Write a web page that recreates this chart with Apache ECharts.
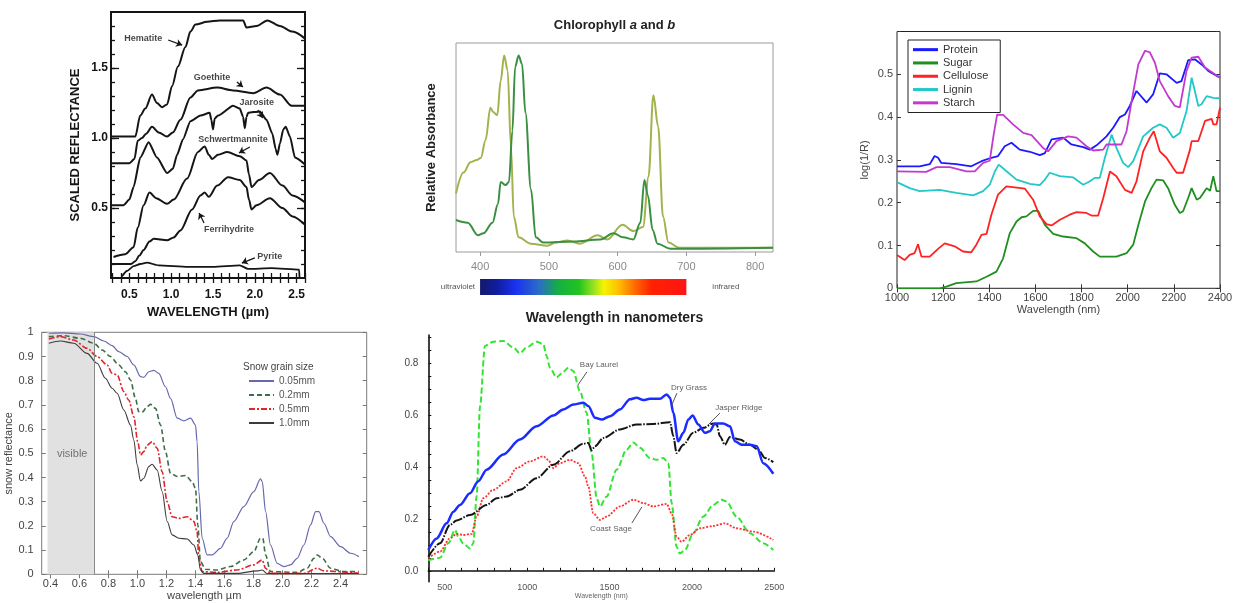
<!DOCTYPE html>
<html>
<head>
<meta charset="utf-8">
<title>Reflectance and absorbance spectra</title>
<script src="https://cdn.jsdelivr.net/npm/echarts@6/dist/echarts.min.js"></script>
<style>
  html, body { margin: 0; padding: 0; background: #ffffff; }
  #main { width: 1234px; height: 603px; }
</style>
</head>
<body>
<div id="main"></div>
<script>
// ---------- Minerals: scaled reflectance vs wavelength (µm) ----------
const hematite = [[0.28,1.01],[0.57,1.01],[0.63,1.16],[0.69,1.21],[0.77,1.31],[0.83,1.25],[0.89,1.22],[0.95,1.24],[1.01,1.37],[1.08,1.51],[1.17,1.65],[1.23,1.76],[1.29,1.81],[1.43,1.83],[1.58,1.84],[1.86,1.84],[1.9,1.79],[2.02,1.80],[2.15,1.84],[2.30,1.80],[2.45,1.76],[2.6,1.71]];
const goethite = [[0.28,0.82],[0.5,0.82],[0.56,0.85],[0.6,0.98],[0.65,1.0],[0.7,1.03],[0.77,1.08],[0.85,1.04],[0.95,1.01],[1.02,1.04],[1.11,1.13],[1.23,1.29],[1.32,1.34],[1.55,1.36],[1.74,1.34],[1.98,1.32],[2.14,1.36],[2.30,1.31],[2.44,1.23],[2.6,1.23]];
const jarosite = [[0.28,0.52],[0.43,0.52],[0.5,0.56],[0.55,0.65],[0.63,0.86],[0.73,0.97],[0.83,0.86],[0.95,0.75],[1.02,0.78],[1.07,0.88],[1.14,0.99],[1.23,1.12],[1.35,1.16],[1.46,1.18],[1.48,1.13],[1.50,1.06],[1.52,1.14],[1.56,1.16],[1.74,1.23],[1.82,1.21],[1.86,1.15],[1.88,1.07],[1.90,1.15],[1.92,1.18],[2.06,1.19],[2.14,1.13],[2.21,1.03],[2.25,0.92],[2.27,0.88],[2.30,0.96],[2.34,1.06],[2.37,1.08],[2.42,1.01],[2.48,0.86],[2.6,0.81]];
const schwertmannite = [[0.31,0.15],[0.45,0.17],[0.55,0.22],[0.6,0.36],[0.67,0.52],[0.74,0.61],[0.82,0.57],[0.95,0.53],[1.03,0.56],[1.19,0.71],[1.32,0.90],[1.40,0.94],[1.45,0.88],[1.49,0.85],[1.56,0.88],[1.67,0.90],[1.82,0.87],[1.9,0.84],[1.93,0.74],[1.96,0.65],[2.05,0.70],[2.18,0.75],[2.33,0.66],[2.45,0.59],[2.6,0.54]];
const ferrihydrite = [[0.28,0.10],[0.52,0.10],[0.57,0.12],[0.62,0.16],[0.67,0.20],[0.74,0.26],[0.79,0.28],[0.95,0.27],[1.03,0.29],[1.11,0.34],[1.25,0.49],[1.35,0.59],[1.40,0.61],[1.45,0.58],[1.55,0.66],[1.68,0.72],[1.82,0.70],[1.9,0.65],[1.93,0.56],[1.96,0.49],[2.02,0.52],[2.18,0.57],[2.33,0.50],[2.45,0.44],[2.6,0.38]];
const pyrite = [[0.41,0.01],[0.47,0.05],[0.55,0.085],[0.63,0.10],[0.71,0.11],[0.85,0.09],[1.2,0.08],[1.5,0.08],[1.82,0.09],[1.92,0.065],[2.2,0.07],[2.53,0.06],[2.535,0.0]];
const mineralTickLabels = [0.5, 1.0, 1.5, 2.0, 2.5];
const mineralYTickLabels = [0.5, 1.0, 1.5];
// label text at [x, y, text]; arrows [x0, y0, x1, y1]
const mineralNotes = [[0.667,1.714,'Hematite'],[1.488,1.429,'Goethite'],[2.024,1.25,'Jarosite'],[1.738,0.986,'Schwertmannite'],[1.69,0.343,'Ferrihydrite'],[2.179,0.15,'Pyrite']];
const mineralArrows = [[0.964,1.70,1.131,1.664],[1.786,1.40,1.857,1.364],[2.036,1.2,2.095,1.143],[1.94,0.936,1.81,0.893],[1.393,0.393,1.333,0.464],[2.0,0.143,1.845,0.107]];

// ---------- Chlorophyll a and b: relative absorbance vs wavelength (nm) ----------
const chlorophyllA = [[365,0.28],[376,0.38],[386,0.43],[395,0.44],[401,0.45],[408,0.535],[415,0.69],[419,0.67],[425,0.655],[430,0.82],[435,0.94],[440,0.87],[445,0.5],[449,0.17],[456,0.07],[474,0.04],[498,0.03],[510,0.045],[527,0.055],[545,0.04],[571,0.08],[585,0.06],[607,0.13],[623,0.10],[637,0.12],[645,0.36],[652,0.75],[659,0.6],[666,0.17],[674,0.045],[690,0.02],[826,0.02]];
const chlorophyllB = [[365,0.153],[382,0.14],[397,0.08],[405,0.09],[418,0.14],[426,0.23],[430,0.335],[437,0.32],[442,0.335],[447,0.58],[451,0.885],[456,0.94],[461,0.9],[466,0.665],[474,0.3],[481,0.07],[492,0.045],[536,0.05],[575,0.06],[594,0.09],[608,0.07],[623,0.06],[633,0.14],[639,0.345],[644,0.27],[651,0.105],[658,0.04],[677,0.015],[826,0.02]];
const chlorophyllTicks = [400, 500, 600, 700, 800];
const spectrumRange = [400, 700];

// ---------- Biochemicals: log(1/R) vs wavelength (nm) ----------
const protein = [[1000,0.285],[1098,0.285],[1142,0.29],[1163,0.309],[1178,0.305],[1192,0.293],[1257,0.29],[1322,0.285],[1366,0.297],[1409,0.305],[1438,0.309],[1467,0.332],[1496,0.34],[1532,0.324],[1576,0.319],[1619,0.311],[1641,0.316],[1670,0.348],[1720,0.352],[1756,0.336],[1807,0.33],[1836,0.324],[1865,0.334],[1908,0.355],[1937,0.375],[1966,0.4],[1988,0.406],[2009,0.426],[2038,0.461],[2082,0.434],[2110,0.453],[2139,0.502],[2168,0.5],[2212,0.48],[2233,0.484],[2262,0.533],[2291,0.535],[2320,0.523],[2349,0.508],[2400,0.492]];
const sugar = [[1000,0],[1185,0],[1214,0.004],[1257,0.012],[1344,0.016],[1388,0.027],[1431,0.039],[1460,0.07],[1489,0.129],[1518,0.156],[1540,0.166],[1561,0.168],[1590,0.181],[1612,0.181],[1641,0.148],[1677,0.127],[1720,0.121],[1778,0.117],[1814,0.105],[1850,0.086],[1879,0.074],[1951,0.074],[1995,0.082],[2024,0.102],[2046,0.148],[2075,0.203],[2103,0.234],[2125,0.254],[2154,0.252],[2175,0.234],[2204,0.195],[2226,0.176],[2240,0.18],[2262,0.211],[2277,0.234],[2299,0.207],[2313,0.211],[2342,0.234],[2357,0.228],[2371,0.262],[2385,0.227],[2400,0.227]];
const cellulose = [[1000,0.078],[1033,0.066],[1055,0.078],[1076,0.082],[1091,0.103],[1106,0.074],[1142,0.074],[1178,0.092],[1207,0.105],[1250,0.098],[1286,0.086],[1322,0.084],[1344,0.102],[1366,0.125],[1388,0.127],[1409,0.172],[1438,0.219],[1474,0.238],[1511,0.236],[1554,0.233],[1590,0.207],[1619,0.168],[1648,0.15],[1670,0.147],[1706,0.16],[1749,0.172],[1778,0.178],[1821,0.176],[1843,0.17],[1872,0.17],[1894,0.211],[1923,0.273],[1951,0.262],[1988,0.23],[2017,0.223],[2038,0.25],[2067,0.32],[2096,0.352],[2113,0.367],[2139,0.32],[2168,0.305],[2197,0.281],[2212,0.27],[2240,0.27],[2270,0.324],[2277,0.344],[2306,0.344],[2335,0.391],[2364,0.396],[2371,0.383],[2385,0.383],[2400,0.422]];
const lignin = [[1000,0.248],[1055,0.234],[1098,0.227],[1185,0.23],[1257,0.223],[1330,0.217],[1373,0.227],[1402,0.242],[1424,0.273],[1441,0.289],[1467,0.277],[1518,0.254],[1576,0.244],[1619,0.241],[1641,0.254],[1662,0.27],[1706,0.262],[1764,0.259],[1807,0.242],[1836,0.25],[1857,0.258],[1879,0.258],[1901,0.305],[1930,0.359],[1951,0.328],[1980,0.293],[2002,0.283],[2024,0.297],[2067,0.355],[2110,0.375],[2139,0.383],[2168,0.375],[2197,0.352],[2226,0.363],[2255,0.414],[2277,0.492],[2291,0.461],[2306,0.426],[2320,0.43],[2342,0.449],[2371,0.445],[2400,0.444]];
const starch = [[1000,0.273],[1127,0.272],[1171,0.283],[1229,0.283],[1301,0.273],[1337,0.273],[1373,0.293],[1402,0.298],[1419,0.359],[1434,0.406],[1460,0.405],[1503,0.383],[1547,0.363],[1583,0.358],[1633,0.328],[1655,0.32],[1691,0.344],[1742,0.355],[1778,0.352],[1821,0.332],[1850,0.322],[1894,0.324],[1908,0.336],[1973,0.336],[1995,0.367],[2017,0.4375],[2046,0.523],[2075,0.555],[2096,0.551],[2118,0.527],[2139,0.484],[2175,0.449],[2204,0.426],[2226,0.423],[2255,0.508],[2277,0.539],[2306,0.541],[2335,0.516],[2400,0.492]];
const biochemYTicks = [0, 0.1, 0.2, 0.3, 0.4, 0.5, 0.6];
const biochemYLabels = [0, 0.1, 0.2, 0.3, 0.4, 0.5];

// ---------- Snow: reflectance vs wavelength (µm) for four grain sizes ----------
const snow005 = [[0.389,0.996],[0.492,0.998],[0.607,0.993],[0.699,0.982],[0.768,0.964],[0.825,0.945],[0.871,0.92],[0.929,0.9],[0.975,0.865],[1.021,0.817],[1.044,0.814],[1.078,0.837],[1.113,0.843],[1.147,0.83],[1.193,0.775],[1.228,0.727],[1.274,0.645],[1.32,0.634],[1.366,0.645],[1.4,0.617],[1.411,0.548],[1.423,0.342],[1.446,0.149],[1.48,0.08],[1.515,0.08],[1.572,0.107],[1.618,0.149],[1.664,0.218],[1.733,0.28],[1.802,0.342],[1.848,0.394],[1.86,0.383],[1.883,0.259],[1.917,0.121],[1.963,0.045],[2.009,0.032],[2.055,0.039],[2.101,0.066],[2.147,0.121],[2.193,0.204],[2.228,0.259],[2.251,0.259],[2.285,0.211],[2.331,0.156],[2.4,0.114],[2.469,0.087],[2.526,0.073]];
const snow02 = [[0.389,0.982],[0.492,0.986],[0.607,0.975],[0.699,0.955],[0.756,0.927],[0.814,0.9],[0.871,0.865],[0.917,0.837],[0.952,0.803],[0.986,0.727],[1.009,0.672],[1.032,0.669],[1.067,0.693],[1.09,0.702],[1.124,0.686],[1.159,0.617],[1.193,0.507],[1.228,0.417],[1.274,0.404],[1.331,0.408],[1.377,0.383],[1.4,0.355],[1.416,0.204],[1.434,0.052],[1.469,0.021],[1.549,0.018],[1.641,0.032],[1.733,0.059],[1.802,0.094],[1.848,0.149],[1.864,0.149],[1.883,0.08],[1.917,0.011],[2.101,0.008],[2.17,0.025],[2.216,0.066],[2.239,0.08],[2.274,0.066],[2.331,0.025],[2.423,0.011],[2.526,0.011]];
const snow05 = [[0.389,0.972],[0.469,0.982],[0.561,0.968],[0.653,0.934],[0.722,0.9],[0.791,0.865],[0.825,0.831],[0.86,0.824],[0.906,0.755],[0.94,0.72],[0.975,0.651],[1.002,0.548],[1.021,0.493],[1.044,0.507],[1.067,0.534],[1.101,0.548],[1.136,0.521],[1.17,0.424],[1.205,0.3],[1.239,0.238],[1.285,0.231],[1.343,0.238],[1.389,0.218],[1.411,0.176],[1.423,0.066],[1.446,0.011],[1.549,0.008],[1.687,0.018],[1.802,0.039],[1.86,0.059],[1.883,0.025],[1.917,0.004],[2.147,0.004],[2.239,0.025],[2.285,0.014],[2.526,0.004]];
const snow10 = [[0.389,0.955],[0.469,0.964],[0.561,0.955],[0.653,0.913],[0.722,0.872],[0.779,0.81],[0.825,0.769],[0.86,0.748],[0.906,0.679],[0.952,0.617],[0.975,0.555],[0.998,0.452],[1.021,0.386],[1.044,0.397],[1.078,0.445],[1.101,0.455],[1.136,0.431],[1.17,0.342],[1.205,0.218],[1.239,0.163],[1.285,0.149],[1.343,0.146],[1.389,0.121],[1.416,0.08],[1.434,0.018],[1.457,0.004],[1.687,0.004],[1.825,0.014],[1.86,0.018],[1.894,0.003],[2.526,0.003]];
const snowXTicks = [0.4, 0.6, 0.8, 1.0, 1.2, 1.4, 1.6, 1.8, 2.0, 2.2, 2.4];
const visibleBand = [0.38, 0.7];
const visibleNote = [[0.55, 0.497, 'visible']];

// ---------- Vegetation: reflectance vs wavelength (nm) ----------
const dryGrass = [[400,0.08],[451,0.125],[511,0.183],[552,0.228],[592,0.254],[653,0.299],[703,0.345],[754,0.39],[855,0.448],[956,0.506],[1057,0.557],[1159,0.599],[1219,0.622],[1280,0.641],[1341,0.648],[1371,0.635],[1412,0.59],[1452,0.583],[1503,0.596],[1563,0.622],[1624,0.661],[1664,0.667],[1705,0.658],[1745,0.663],[1806,0.663],[1846,0.68],[1867,0.667],[1887,0.609],[1917,0.499],[1948,0.532],[1978,0.583],[2004,0.599],[2039,0.564],[2079,0.532],[2109,0.538],[2140,0.568],[2190,0.568],[2231,0.557],[2261,0.499],[2302,0.486],[2352,0.486],[2393,0.48],[2433,0.415],[2494,0.374]];
const jasperRidge = [[400,0.054],[471,0.106],[531,0.177],[572,0.194],[653,0.215],[754,0.254],[815,0.28],[875,0.286],[956,0.312],[1057,0.357],[1159,0.409],[1260,0.461],[1341,0.49],[1371,0.493],[1391,0.465],[1412,0.48],[1462,0.512],[1563,0.545],[1664,0.564],[1765,0.566],[1867,0.573],[1887,0.519],[1907,0.454],[1948,0.486],[2008,0.532],[2069,0.551],[2130,0.568],[2150,0.564],[2170,0.519],[2200,0.486],[2231,0.516],[2291,0.506],[2352,0.486],[2403,0.467],[2443,0.435],[2494,0.419]];
const bayLaurel = [[400,0.041],[471,0.05],[521,0.106],[562,0.157],[582,0.132],[612,0.106],[653,0.086],[673,0.106],[693,0.286],[714,0.635],[744,0.867],[794,0.883],[855,0.886],[916,0.861],[956,0.839],[997,0.861],[1057,0.883],[1098,0.874],[1118,0.828],[1138,0.783],[1179,0.745],[1209,0.761],[1250,0.783],[1280,0.77],[1320,0.693],[1361,0.609],[1391,0.454],[1422,0.28],[1442,0.248],[1482,0.286],[1543,0.39],[1604,0.467],[1644,0.495],[1685,0.474],[1745,0.435],[1786,0.428],[1826,0.435],[1857,0.415],[1877,0.261],[1907,0.093],[1927,0.067],[1958,0.08],[2008,0.145],[2069,0.209],[2130,0.254],[2180,0.274],[2210,0.267],[2271,0.209],[2352,0.145],[2433,0.106],[2494,0.08]];
const coastSage = [[400,0.048],[471,0.074],[531,0.125],[572,0.142],[612,0.138],[663,0.142],[693,0.209],[734,0.28],[794,0.312],[875,0.345],[936,0.396],[1017,0.422],[1098,0.441],[1128,0.428],[1159,0.396],[1199,0.415],[1260,0.428],[1310,0.415],[1351,0.364],[1371,0.325],[1401,0.222],[1442,0.196],[1482,0.209],[1563,0.248],[1644,0.274],[1705,0.261],[1765,0.248],[1846,0.258],[1877,0.222],[1907,0.132],[1937,0.112],[1988,0.138],[2049,0.164],[2130,0.173],[2200,0.183],[2271,0.164],[2372,0.151],[2494,0.119]];
const vegXTicks = [500, 1000, 1500, 2000, 2500];
const vegYTicks = [0, 0.2, 0.4, 0.6, 0.8];
const vegNotes = [[1436,0.794,'Bay Laurel'],[1982,0.705,'Dry Grass'],[2285,0.627,'Jasper Ridge'],[1509,0.161,'Coast Sage']];
const vegLeaders = [[1363,0.767,1308,0.716],[1909,0.685,1878,0.639],[2170,0.608,2098,0.562],[1636,0.184,1696,0.246]];

// ---------- helpers ----------
const FONT = "'Liberation Sans', Arial, Helvetica, sans-serif";
function seq(a, b, s) {
  const out = [];
  for (let v = a; v <= b + s * 1e-6; v += s) out.push(+v.toFixed(4));
  return out;
}
const plain = v => String(v);
const off = { show: false };
function plainAxis(extra) {
  return Object.assign({
    type: 'value', splitLine: off, axisLine: off,
    axisTick: off, axisLabel: off
  }, extra);
}
function ticks(values, len, color, inside, width) {
  return { show: true, inside: inside, length: len, customValues: values,
           lineStyle: { color: color, width: width || 1 } };
}
function lineSeries(name, data, xi, yi, color, width, type, smooth) {
  return {
    name: name, type: 'line', data: data, xAxisIndex: xi, yAxisIndex: yi,
    symbol: 'none', showSymbol: false, smooth: smooth || false, smoothMonotone: 'x',
    lineStyle: { color: color, width: width, type: type || 'solid' },
    itemStyle: { color: color }, emphasis: { disabled: true }, silent: true, z: 3
  };
}
function noteSeries(notes, xi, yi, font, arrows, arrowStyle) {
  const s = {
    type: 'scatter', xAxisIndex: xi, yAxisIndex: yi, symbolSize: 1, silent: true,
    itemStyle: { color: 'transparent' }, z: 5,
    data: notes.map(n => ({ value: [n[0], n[1]], text: n[2] })),
    label: Object.assign({ show: true, position: 'inside', formatter: p => p.data.text }, font)
  };
  if (arrows) {
    s.markLine = {
      silent: true, animation: false,
      symbol: arrowStyle.symbol, symbolSize: arrowStyle.symbolSize,
      label: off, lineStyle: arrowStyle.lineStyle, emphasis: { disabled: true },
      data: arrows.map(a => [{ coord: [a[0], a[1]] }, { coord: [a[2], a[3]] }])
    };
  }
  return s;
}

const mineralMinorX = seq(0.3, 2.6, 0.1);
const mineralMinorY = seq(0.1, 1.8, 0.1);
const K = '#151515';
const boldTick = { fontFamily: FONT, fontWeight: 'bold', fontSize: 12, color: K };

const xAxis = [
  // 0 minerals bottom
  plainAxis({ gridIndex: 0, position: 'bottom', min: 0.28, max: 2.6,
    axisTick: ticks(mineralMinorX, 5, K, true, 1.3),
    axisLabel: Object.assign({ show: true, customValues: mineralTickLabels, margin: 11,
      formatter: v => v.toFixed(1) }, boldTick),
    name: 'WAVELENGTH (µm)', nameLocation: 'middle', nameGap: 28,
    nameTextStyle: { fontFamily: FONT, fontWeight: 'bold', fontSize: 13, color: K } }),
  // 1 minerals top
  plainAxis({ gridIndex: 0, position: 'top', min: 0.28, max: 2.6,
    axisTick: ticks(mineralMinorX, 5, K, true, 1.3) }),
  // 2 chlorophyll bottom
  plainAxis({ gridIndex: 1, position: 'bottom', min: 365, max: 826,
    axisTick: ticks(chlorophyllTicks, 4, '#999', false, 1),
    axisLabel: { show: true, customValues: chlorophyllTicks, margin: 9, formatter: plain,
      fontFamily: FONT, fontSize: 11, color: '#8a8a8a' },
    name: 'Wavelength in nanometers', nameLocation: 'middle', nameGap: 59,
    nameTextStyle: { fontFamily: FONT, fontWeight: 'bold', fontSize: 14, color: '#222' } }),
  // 3 biochemicals bottom
  plainAxis({ gridIndex: 2, position: 'bottom', min: 1000, max: 2400, interval: 200,
    axisTick: ticks(seq(1000, 2400, 200), 4, '#333', true, 1),
    axisLabel: { show: true, margin: 4, formatter: plain, fontFamily: FONT, fontSize: 11, color: '#444' },
    name: 'Wavelength (nm)', nameLocation: 'middle', nameGap: 16,
    nameTextStyle: { fontFamily: FONT, fontSize: 11, color: '#444' } }),
  // 4 biochemicals top
  plainAxis({ gridIndex: 2, position: 'top', min: 1000, max: 2400, interval: 200,
    axisTick: ticks(seq(1000, 2400, 200), 4, '#333', true, 1) }),
  // 5 snow bottom
  plainAxis({ gridIndex: 3, position: 'bottom', min: 0.34, max: 2.58,
    axisTick: ticks(snowXTicks, 4, '#777', true, 1),
    axisLabel: { show: true, customValues: snowXTicks, margin: 4, formatter: v => v.toFixed(1),
      fontFamily: FONT, fontSize: 11, color: '#444' },
    name: 'wavelength µm', nameLocation: 'middle', nameGap: 16,
    nameTextStyle: { fontFamily: FONT, fontSize: 11, color: '#444' } }),
  // 6 snow top
  plainAxis({ gridIndex: 3, position: 'top', min: 0.34, max: 2.58,
    axisTick: ticks(snowXTicks, 4, '#777', true, 1) }),
  // 7 vegetation bottom
  plainAxis({ gridIndex: 4, position: 'bottom', min: 400, max: 2500,
    axisLine: { show: true, lineStyle: { color: '#111', width: 1.6 } },
    axisTick: ticks(seq(400, 2500, 100), 3, '#111', true, 1),
    axisLabel: { show: true, customValues: vegXTicks, margin: 1, formatter: plain,
      fontFamily: FONT, fontSize: 9, color: '#555' },
    name: 'Wavelength (nm)', nameLocation: 'middle', nameGap: 9,
    nameTextStyle: { fontFamily: FONT, fontSize: 7, color: '#666' } })
];

const yAxis = [
  // 0 minerals left (major)
  plainAxis({ gridIndex: 0, position: 'left', min: 0, max: 1.9,
    axisTick: ticks(mineralYTickLabels, 8, K, true, 1.3),
    axisLabel: Object.assign({ show: true, customValues: mineralYTickLabels, margin: 3,
      formatter: v => v.toFixed(1) }, boldTick),
    name: 'SCALED REFLECTANCE', nameLocation: 'middle', nameGap: 29,
    nameTextStyle: { fontFamily: FONT, fontWeight: 'bold', fontSize: 13, color: K } }),
  // 1 minerals left (minor)
  plainAxis({ gridIndex: 0, position: 'left', min: 0, max: 1.9,
    axisTick: ticks(mineralMinorY, 4, K, true, 1.3) }),
  // 2 minerals right (major)
  plainAxis({ gridIndex: 0, position: 'right', min: 0, max: 1.9,
    axisTick: ticks(mineralYTickLabels, 8, K, true, 1.3) }),
  // 3 minerals right (minor)
  plainAxis({ gridIndex: 0, position: 'right', min: 0, max: 1.9,
    axisTick: ticks(mineralMinorY, 4, K, true, 1.3) }),
  // 4 chlorophyll
  plainAxis({ gridIndex: 1, position: 'left', min: 0, max: 1,
    name: 'Relative Absorbance', nameLocation: 'middle', nameGap: 18,
    nameTextStyle: { fontFamily: FONT, fontWeight: 'bold', fontSize: 13, color: '#222' } }),
  // 5 biochemicals left
  plainAxis({ gridIndex: 2, position: 'left', min: 0, max: 0.6,
    axisTick: ticks(biochemYTicks, 4, '#333', true, 1),
    axisLabel: { show: true, customValues: biochemYLabels, margin: 4,
      fontFamily: FONT, fontSize: 11, color: '#444' },
    name: 'log(1/R)', nameLocation: 'middle', nameGap: 27,
    nameTextStyle: { fontFamily: FONT, fontSize: 11, color: '#444' } }),
  // 6 biochemicals right
  plainAxis({ gridIndex: 2, position: 'right', min: 0, max: 0.6,
    axisTick: ticks(biochemYTicks, 4, '#333', true, 1) }),
  // 7 snow left
  plainAxis({ gridIndex: 3, position: 'left', min: 0, max: 1, interval: 0.1,
    axisTick: ticks(seq(0, 1, 0.1), 4, '#777', true, 1),
    axisLabel: { show: true, margin: 8, fontFamily: FONT, fontSize: 11, color: '#444' },
    name: 'snow reflectance', nameLocation: 'middle', nameGap: 26,
    nameTextStyle: { fontFamily: FONT, fontSize: 11, color: '#444' } }),
  // 8 snow right
  plainAxis({ gridIndex: 3, position: 'right', min: 0, max: 1,
    axisTick: ticks(seq(0, 1, 0.1), 4, '#777', true, 1) }),
  // 9 vegetation left
  plainAxis({ gridIndex: 4, position: 'left', min: -0.042, max: 0.909,
    axisLine: { show: true, lineStyle: { color: '#111', width: 1.6 } },
    axisTick: ticks(seq(0, 0.9, 0.05), 3, '#111', true, 1),
    axisLabel: { show: true, customValues: vegYTicks, margin: 10, formatter: v => v.toFixed(1),
      fontFamily: FONT, fontSize: 10, color: '#444' } })
];

const grid = [
  { left: 111, top: 12, width: 194, height: 266, show: true, borderColor: K, borderWidth: 2, outerBoundsMode: 'none' },
  { left: 456, top: 43, width: 317, height: 209, show: true, borderColor: '#9a9a9a', borderWidth: 1, outerBoundsMode: 'none' },
  { left: 897, top: 31.5, width: 323, height: 256.8, show: true, borderColor: '#222', borderWidth: 1, outerBoundsMode: 'none' },
  { left: 41.7, top: 332.3, width: 325, height: 242, show: true, borderColor: '#7a7a7a', borderWidth: 1, outerBoundsMode: 'none' },
  { left: 428.3, top: 335, width: 346, height: 246.7, outerBoundsMode: 'none' }
];

const noteFontBold = { fontFamily: FONT, fontWeight: 'bold', fontSize: 9, color: K };
const noteFontSmall = { fontFamily: FONT, fontSize: 8, color: '#333' };

const snowFirst = lineSeries('0.05mm', snow005, 5, 7, '#6868ae', 1.2, 'solid', 0.3);
snowFirst.markArea = {
  silent: true, itemStyle: { color: '#e1e1e1' }, emphasis: { disabled: true },
  data: [[{ xAxis: visibleBand[0] }, { xAxis: visibleBand[1] }]]
};
snowFirst.markLine = {
  silent: true, symbol: 'none', label: off, emphasis: { disabled: true },
  lineStyle: { color: '#888', width: 1, type: 'solid' },
  data: [{ xAxis: visibleBand[1] }]
};

const series = [
  // minerals
  lineSeries('Hematite', hematite, 0, 0, K, 2, 'solid', 0.3),
  lineSeries('Goethite', goethite, 0, 0, K, 2, 'solid', 0.3),
  lineSeries('Jarosite', jarosite, 0, 0, K, 2, 'solid', 0.2),
  lineSeries('Schwertmannite', schwertmannite, 0, 0, K, 2, 'solid', 0.3),
  lineSeries('Ferrihydrite', ferrihydrite, 0, 0, K, 2, 'solid', 0.3),
  lineSeries('Pyrite', pyrite, 0, 0, K, 1.8, 'solid', 0.2),
  noteSeries(mineralNotes, 0, 0, noteFontBold, mineralArrows,
    { symbol: ['none', 'arrow'], symbolSize: 6, lineStyle: { color: K, width: 1.3, type: 'solid' } }),
  // chlorophyll
  lineSeries('Chlorophyll a', chlorophyllA, 2, 4, '#a3b24c', 2, 'solid', 0.35),
  lineSeries('Chlorophyll b', chlorophyllB, 2, 4, '#3a9040', 2, 'solid', 0.35),
  // biochemicals
  lineSeries('Protein', protein, 3, 5, '#1a1aff', 1.8),
  lineSeries('Sugar', sugar, 3, 5, '#1f8f1f', 1.8),
  lineSeries('Cellulose', cellulose, 3, 5, '#ff2222', 1.8),
  lineSeries('Lignin', lignin, 3, 5, '#22c8c8', 1.8),
  lineSeries('Starch', starch, 3, 5, '#c23ad0', 1.8),
  // snow
  snowFirst,
  lineSeries('0.2mm', snow02, 5, 7, '#3e6e48', 1.6, [5, 3], 0.3),
  lineSeries('0.5mm', snow05, 5, 7, '#e3242b', 1.6, [6, 2, 2, 2], 0.3),
  lineSeries('1.0mm', snow10, 5, 7, '#3c3c3c', 1.1, 'solid', 0.3),
  noteSeries(visibleNote, 5, 7, { fontFamily: FONT, fontSize: 11, color: '#555' }),
  // vegetation
  lineSeries('Bay Laurel', bayLaurel, 7, 9, '#33e433', 2, [6, 3], 0.3),
  lineSeries('Coast Sage', coastSage, 7, 9, '#ff3030', 1.8, [2, 1.5], 0.3),
  lineSeries('Jasper Ridge', jasperRidge, 7, 9, '#151515', 2, [10, 1.5, 1.5, 1.5], 0.3),
  lineSeries('Dry Grass', dryGrass, 7, 9, '#1a2cff', 2.5, 'solid', 0.3),
  noteSeries(vegNotes, 7, 9, noteFontSmall, vegLeaders,
    { symbol: ['none', 'none'], symbolSize: 0, lineStyle: { color: '#555', width: 1, type: 'solid' } })
];

const legend = [
  {
    data: ['Protein', 'Sugar', 'Cellulose', 'Lignin', 'Starch'],
    orient: 'vertical', left: 908, top: 40, icon: 'rect', itemWidth: 25, itemHeight: 3, itemGap: 0,
    padding: [3, 12, 3, 5], borderColor: '#222', borderWidth: 1, backgroundColor: '#fff',
    textStyle: { fontFamily: FONT, fontSize: 11, lineHeight: 13.3, color: '#333' },
    selectedMode: false
  },
  {
    data: ['0.05mm', '0.2mm', '0.5mm', '1.0mm'],
    orient: 'vertical', left: 248, top: 376, itemWidth: 25, itemHeight: 10, itemGap: 4,
    padding: 0, itemStyle: { opacity: 0 },
    textStyle: { fontFamily: FONT, fontSize: 10, lineHeight: 10, color: '#555' },
    selectedMode: false
  }
];

const chart = echarts.init(document.getElementById('main'), null, { renderer: 'canvas' });
chart.setOption({
  animation: false,
  backgroundColor: '#ffffff',
  textStyle: { fontFamily: FONT },
  grid: grid, xAxis: xAxis, yAxis: yAxis, legend: legend, series: series
});

// Colour spectrum bar under the chlorophyll axis, placed on the wavelength scale.
const sx0 = chart.convertToPixel({ xAxisIndex: 2 }, spectrumRange[0]);
const sx1 = chart.convertToPixel({ xAxisIndex: 2 }, spectrumRange[1]);
const axisBottom = chart.convertToPixel({ yAxisIndex: 4 }, 0);
const barTop = axisBottom + 27;
const titleCenter = (chart.convertToPixel({ xAxisIndex: 2 }, 365) + chart.convertToPixel({ xAxisIndex: 2 }, 826)) / 2;
chart.setOption({
  graphic: [
    {
      type: 'rect', shape: { x: sx0, y: barTop, width: sx1 - sx0, height: 16 }, silent: true,
      style: {
        fill: new echarts.graphic.LinearGradient(0, 0, 1, 0, [
          { offset: 0.00, color: '#15196a' },
          { offset: 0.08, color: '#101d9c' },
          { offset: 0.17, color: '#1a30f0' },
          { offset: 0.29, color: '#2a6fc4' },
          { offset: 0.38, color: '#14b040' },
          { offset: 0.48, color: '#22c420' },
          { offset: 0.55, color: '#95e220' },
          { offset: 0.60, color: '#f4f400' },
          { offset: 0.67, color: '#ffc000' },
          { offset: 0.75, color: '#ff6a00' },
          { offset: 0.83, color: '#ff2200' },
          { offset: 1.00, color: '#ff1414' }
        ])
      }
    },
    { type: 'text', x: sx0 - 5, y: barTop + 8, silent: true,
      style: { text: 'ultraviolet', font: '8px ' + FONT, fill: '#555', align: 'right', verticalAlign: 'middle' } },
    { type: 'text', x: sx1 + 26, y: barTop + 8, silent: true,
      style: { text: 'infrared', font: '8px ' + FONT, fill: '#555', align: 'left', verticalAlign: 'middle' } },
    { type: 'text', x: titleCenter, y: 25, silent: true,
      style: {
        text: '{n|Chlorophyll }{i|a}{n| and }{i|b}', align: 'center', verticalAlign: 'middle',
        rich: {
          n: { fontFamily: FONT, fontWeight: 'bold', fontSize: 13, fill: '#222' },
          i: { fontFamily: FONT, fontWeight: 'bold', fontStyle: 'italic', fontSize: 13, fill: '#222' }
        }
      } },
    { type: 'text', x: 243, y: 367, silent: true,
      style: { text: 'Snow grain size', font: '10px ' + FONT, fill: '#444', align: 'left', verticalAlign: 'middle' } }
  ]
});
</script>
</body>
</html>
